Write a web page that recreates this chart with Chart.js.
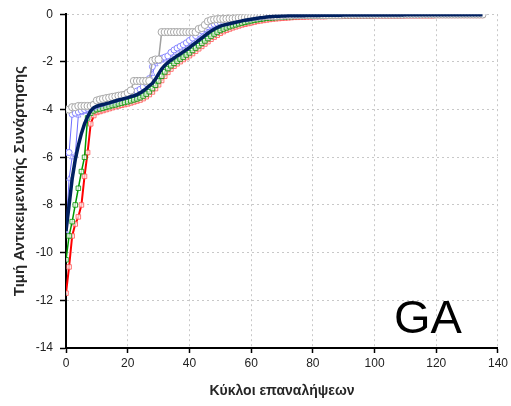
<!DOCTYPE html>
<html>
<head>
<meta charset="utf-8">
<script src="https://cdn.jsdelivr.net/npm/chart.js@4.4.1/dist/chart.umd.min.js"></script>
<style>
html, body { margin: 0; padding: 0; background: #fff; }
</style>
</head>
<body>
<canvas id="chart" width="511" height="406"></canvas>
<script>
// x = κύκλος επανάληψης (0..135), μία τιμή ανά κύκλο
var xTicks = [0, 20, 40, 60, 80, 100, 120, 140];
var yTicks = [-14, -12, -10, -8, -6, -4, -2, 0];

// μέσος όρος (σκούρα μπλε γραμμή)
var meanRun = [
  -9.1,-8.0,-6.9,-6.1,-5.5,-5.0,-4.6,-4.3,-4.05,-3.92,
  -3.86,-3.82,-3.79,-3.75,-3.72,-3.68,-3.64,-3.6,-3.57,-3.53,
  -3.5,-3.46,-3.42,-3.37,-3.3,-3.22,-3.12,-3.0,-2.9,-2.72,
  -2.5,-2.3,-2.15,-2.03,-1.93,-1.84,-1.75,-1.67,-1.58,-1.49,
  -1.4,-1.3,-1.2,-1.1,-1.0,-0.9,-0.8,-0.71,-0.63,-0.56,
  -0.5,-0.46,-0.43,-0.4,-0.37,-0.34,-0.31,-0.28,-0.25,-0.23,
  -0.21,-0.19,-0.17,-0.15,-0.14,-0.12,-0.11,-0.1,-0.09,-0.09,
  -0.08,-0.08,-0.07,-0.07,-0.07,-0.06,-0.06,-0.06,-0.05,-0.05,
  -0.05,-0.05,-0.05,-0.04,-0.04,-0.04,-0.04,-0.04,-0.04,-0.04,
  -0.03,-0.03,-0.03,-0.03,-0.03,-0.03,-0.03,-0.03,-0.03,-0.03,
  -0.03,-0.03,-0.03,-0.03,-0.03,-0.03,-0.03,-0.03,-0.03,-0.03,
  -0.02,-0.02,-0.02,-0.02,-0.02,-0.02,-0.02,-0.02,-0.02,-0.02,
  -0.02,-0.02,-0.02,-0.02,-0.02,-0.02,-0.02,-0.02,-0.02,-0.02,
  -0.02,-0.02,-0.02,-0.02,-0.02,-0.02
];

// γκρι κύκλοι
var grayRun = [
  -4.0,-4.0,-3.9,-3.9,-3.85,-3.85,-3.85,-3.85,-3.85,-3.8,
  -3.62,-3.58,-3.55,-3.52,-3.5,-3.47,-3.45,-3.42,-3.4,-3.38,
  -3.3,-3.2,-2.8,-2.8,-2.8,-2.8,-2.8,-2.8,-1.95,-1.9,
  -1.9,-0.75,-0.75,-0.75,-0.75,-0.75,-0.75,-0.75,-0.75,-0.75,
  -0.75,-0.75,-0.75,-0.62,-0.58,-0.45,-0.3,-0.25,-0.22,-0.21,
  -0.2,-0.2,-0.19,-0.18,-0.18,-0.17,-0.15,-0.14,-0.13,-0.12,
  -0.11,-0.1,-0.1,-0.09,-0.09,-0.08,-0.08,-0.07,-0.07,-0.06,
  -0.06,-0.05,-0.05,-0.05,-0.04,-0.04,-0.04,-0.04,-0.03,-0.03,
  -0.03,-0.03,-0.03,-0.03,-0.03,-0.03,-0.03,-0.03,-0.03,-0.03,
  -0.02,-0.02,-0.02,-0.02,-0.02,-0.02,-0.02,-0.02,-0.02,-0.02,
  -0.02,-0.02,-0.02,-0.02,-0.02,-0.02,-0.02,-0.02,-0.02,-0.02,
  -0.01,-0.01,-0.01,-0.01,-0.01,-0.01,-0.01,-0.01,-0.01,-0.01,
  -0.01,-0.01,-0.01,-0.01,-0.01,-0.01,-0.01,-0.01,-0.01,-0.01,
  -0.01,-0.01,-0.01,-0.01,-0.01,-0.01
];

// μπλε κύκλοι
var blueRunA = [
  -5.8,-5.8,-4.2,-4.15,-4.1,-4.05,-4.0,-3.95,-3.9,-3.85,
  -3.8,-3.75,-3.72,-3.68,-3.64,-3.6,-3.56,-3.52,-3.48,-3.44,
  -3.4,-3.35,-3.3,-3.22,-3.15,-3.05,-2.9,-2.7,-2.2,-1.9,
  -1.88,-1.85,-1.8,-1.75,-1.6,-1.5,-1.42,-1.35,-1.28,-1.2,
  -1.1,-1.0,-0.9,-0.8,-0.7,-0.6,-0.52,-0.46,-0.42,-0.38,
  -0.35,-0.32,-0.3,-0.28,-0.26,-0.24,-0.22,-0.2,-0.18,-0.17,
  -0.16,-0.14,-0.13,-0.12,-0.11,-0.1,-0.09,-0.08,-0.08,-0.07,
  -0.07,-0.06,-0.06,-0.05,-0.05,-0.05,-0.04,-0.04,-0.04,-0.04,
  -0.03,-0.03,-0.03,-0.03,-0.03,-0.03,-0.03,-0.03,-0.03,-0.03,
  -0.03,-0.03,-0.03,-0.03,-0.03,-0.03,-0.03,-0.03,-0.03,-0.03,
  -0.02,-0.02,-0.02,-0.02,-0.02,-0.02,-0.02,-0.02,-0.02,-0.02,
  -0.02,-0.02,-0.02,-0.02,-0.02,-0.02,-0.02,-0.02,-0.02,-0.02,
  -0.01,-0.01,-0.01,-0.01,-0.01,-0.01,-0.01,-0.01,-0.01,-0.01,
  -0.01,-0.01,-0.01,-0.01,-0.01,-0.01
];

// μπλε τρίγωνα
var blueRunB = [
  -9.1,-6.9,-6.0,-5.9,-4.25,-4.15,-4.1,-4.05,-4.0,-3.95,
  -3.88,-3.82,-3.78,-3.74,-3.7,-3.66,-3.62,-3.58,-3.54,-3.5,
  -3.46,-3.42,-3.38,-3.32,-3.25,-3.15,-3.0,-2.8,-2.5,-2.1,
  -2.0,-1.95,-1.9,-1.82,-1.72,-1.62,-1.52,-1.44,-1.36,-1.28,
  -1.2,-1.1,-1.0,-0.9,-0.8,-0.7,-0.6,-0.53,-0.47,-0.43,
  -0.4,-0.37,-0.34,-0.31,-0.29,-0.27,-0.25,-0.23,-0.21,-0.19,
  -0.17,-0.16,-0.14,-0.13,-0.12,-0.11,-0.1,-0.09,-0.09,-0.08,
  -0.08,-0.07,-0.07,-0.06,-0.06,-0.05,-0.05,-0.05,-0.04,-0.04,
  -0.04,-0.04,-0.03,-0.03,-0.03,-0.03,-0.03,-0.03,-0.03,-0.03,
  -0.03,-0.03,-0.03,-0.03,-0.03,-0.03,-0.03,-0.03,-0.03,-0.03,
  -0.03,-0.03,-0.03,-0.03,-0.03,-0.03,-0.03,-0.03,-0.03,-0.03,
  -0.02,-0.02,-0.02,-0.02,-0.02,-0.02,-0.02,-0.02,-0.02,-0.02,
  -0.02,-0.02,-0.02,-0.02,-0.02,-0.02,-0.02,-0.02,-0.02,-0.02,
  -0.02,-0.02,-0.02,-0.02,-0.02,-0.02
];

// πράσινα τετράγωνα
var greenRun = [
  -10.3,-9.3,-8.7,-8.0,-7.3,-6.6,-6.0,-4.35,-4.15,-4.05,
  -4.0,-3.97,-3.94,-3.9,-3.87,-3.83,-3.8,-3.76,-3.73,-3.7,
  -3.67,-3.63,-3.59,-3.55,-3.5,-3.43,-3.35,-3.25,-3.12,-2.98,
  -2.8,-2.6,-2.42,-2.28,-2.16,-2.06,-1.97,-1.88,-1.8,-1.71,
  -1.62,-1.52,-1.42,-1.32,-1.22,-1.12,-1.02,-0.92,-0.83,-0.75,
  -0.68,-0.62,-0.57,-0.52,-0.48,-0.44,-0.4,-0.37,-0.34,-0.31,
  -0.28,-0.25,-0.23,-0.21,-0.19,-0.17,-0.16,-0.15,-0.14,-0.13,
  -0.12,-0.11,-0.1,-0.1,-0.09,-0.09,-0.08,-0.08,-0.08,-0.07,
  -0.07,-0.07,-0.07,-0.06,-0.06,-0.06,-0.06,-0.06,-0.05,-0.05,
  -0.05,-0.05,-0.05,-0.05,-0.05,-0.05,-0.05,-0.05,-0.05,-0.05,
  -0.04,-0.04,-0.04,-0.04,-0.04,-0.04,-0.04,-0.04,-0.04,-0.04,
  -0.04,-0.04,-0.04,-0.04,-0.04,-0.04,-0.04,-0.04,-0.04,-0.04,
  -0.03,-0.03,-0.03,-0.03,-0.03,-0.03,-0.03,-0.03,-0.03,-0.03,
  -0.03,-0.03,-0.03,-0.03,-0.03,-0.03
];

// κόκκινα τετράγωνα
var redRun = [
  -11.7,-10.6,-9.3,-8.8,-8.5,-8.0,-6.8,-5.8,-4.6,-4.25,
  -4.12,-4.08,-4.04,-4.0,-3.96,-3.92,-3.88,-3.85,-3.82,-3.79,
  -3.76,-3.72,-3.68,-3.64,-3.6,-3.54,-3.46,-3.37,-3.26,-3.12,
  -2.96,-2.78,-2.6,-2.44,-2.3,-2.18,-2.08,-1.99,-1.9,-1.82,
  -1.74,-1.65,-1.55,-1.45,-1.35,-1.25,-1.15,-1.05,-0.96,-0.88,
  -0.8,-0.73,-0.67,-0.62,-0.57,-0.53,-0.49,-0.45,-0.42,-0.39,
  -0.36,-0.33,-0.3,-0.28,-0.26,-0.24,-0.22,-0.2,-0.19,-0.18,
  -0.17,-0.16,-0.15,-0.14,-0.13,-0.13,-0.12,-0.12,-0.11,-0.11,
  -0.1,-0.1,-0.1,-0.1,-0.1,-0.09,-0.09,-0.09,-0.09,-0.09,
  -0.08,-0.08,-0.08,-0.08,-0.08,-0.08,-0.08,-0.08,-0.08,-0.08,
  -0.07,-0.07,-0.07,-0.07,-0.07,-0.07,-0.07,-0.07,-0.07,-0.07,
  -0.06,-0.06,-0.06,-0.06,-0.06,-0.06,-0.06,-0.06,-0.06,-0.06,
  -0.05,-0.05,-0.05,-0.05,-0.05,-0.05,-0.05,-0.05,-0.05,-0.05,
  -0.05,-0.05,-0.05,-0.05,-0.05,-0.05
];

function toPoints(values) {
    return values.map(function(v, i) { return { x: i, y: v }; });
}

// μεγάλη ετικέτα "GA" κάτω δεξιά
var gaLabel = {
    id: 'gaLabel',
    afterDraw: function(chart) {
        var ctx = chart.ctx;
        var area = chart.chartArea;
        ctx.save();
        ctx.font = '47px "Liberation Sans", Arial, sans-serif';
        ctx.fillStyle = '#000';
        ctx.textBaseline = 'alphabetic';
        ctx.fillText('GA', area.right - 104, area.bottom - 15);
        ctx.restore();
    }
};

var ctx = document.getElementById('chart').getContext('2d');
var tickFont = { family: '"Liberation Sans", Arial, sans-serif', size: 12 };

var chart = new Chart(ctx, {
    type: 'line',
    data: {
        datasets: [{
            data: toPoints(meanRun),
            borderColor: '#002060',
            borderWidth: 3.5,
            pointRadius: 0
        }, {
            data: toPoints(grayRun),
            borderColor: '#a0a0a0',
            borderWidth: 1.5,
            pointStyle: 'circle',
            pointRadius: 3.6,
            pointBorderWidth: 1,
            pointBorderColor: '#a8a8a8',
            pointBackgroundColor: '#fff'
        }, {
            data: toPoints(blueRunA),
            borderColor: 'rgba(60,60,255,0.75)',
            borderWidth: 1,
            pointStyle: 'circle',
            pointRadius: 3,
            pointBorderWidth: 1,
            pointBorderColor: 'rgba(110,110,255,0.8)',
            pointBackgroundColor: '#fff'
        }, {
            data: toPoints(blueRunB),
            borderColor: 'rgba(60,60,255,0.75)',
            borderWidth: 1,
            pointStyle: 'triangle',
            pointRadius: 3,
            pointBorderWidth: 1,
            pointBorderColor: 'rgba(120,120,255,0.7)',
            pointBackgroundColor: 'rgba(255,255,255,0.6)'
        }, {
            data: toPoints(greenRun),
            borderColor: '#009a00',
            borderWidth: 1.5,
            pointStyle: 'rect',
            pointRadius: 3.2,
            pointBorderWidth: 1,
            pointBorderColor: 'rgba(0,150,0,0.8)',
            pointBackgroundColor: 'rgba(255,255,255,0.7)'
        }, {
            data: toPoints(redRun),
            borderColor: '#ff0000',
            borderWidth: 2,
            pointStyle: 'rect',
            pointRadius: 3.2,
            pointBorderWidth: 1,
            pointBorderColor: 'rgba(255,80,80,0.8)',
            pointBackgroundColor: 'rgba(255,255,255,0.7)'
        }]
    },
    options: {
        responsive: false,
        animation: false,
        layout: { padding: { left: 0, right: 12, top: 13, bottom: 0 } },
        plugins: {
            legend: { display: false },
            tooltip: { enabled: false }
        },
        elements: { line: { tension: 0 } },
        scales: {
            x: {
                type: 'linear',
                min: 0,
                max: 140,
                afterFit: function(scale) { scale.height = 58; },
                afterBuildTicks: function(scale) {
                    scale.ticks = xTicks.map(function(v) { return { value: v }; });
                },
                ticks: { color: '#222', font: tickFont, padding: 3, maxRotation: 0 },
                grid: {
                    color: '#c8c8c8',
                    lineWidth: 1,
                    tickLength: 5,
                    tickColor: '#000',
                    tickWidth: 1.5,
                    tickBorderDash: []
                },
                border: { display: true, color: '#000', width: 2, dash: [2, 3] },
                title: {
                    display: true,
                    text: 'Κύκλοι επαναλήψεων',
                    color: '#262626',
                    font: { family: '"Liberation Sans", Arial, sans-serif', size: 14, weight: 'bold' },
                    padding: { top: 0, bottom: 6 }
                }
            },
            y: {
                min: -14,
                max: 0,
                afterFit: function(scale) { scale.width = 66; },
                afterBuildTicks: function(scale) {
                    scale.ticks = yTicks.map(function(v) { return { value: v }; });
                },
                ticks: { color: '#222', font: tickFont, padding: 7 },
                grid: {
                    color: '#c8c8c8',
                    lineWidth: 1,
                    tickLength: 6,
                    tickColor: '#000',
                    tickWidth: 1.5,
                    tickBorderDash: []
                },
                border: { display: true, color: '#000', width: 2, dash: [2, 3] },
                title: {
                    display: true,
                    text: 'Τιμή Αντικειμενικής Συνάρτησης',
                    color: '#262626',
                    font: { family: '"Liberation Sans", Arial, sans-serif', size: 15, weight: 'bold' },
                    padding: { top: 11, bottom: 0 }
                }
            }
        }
    },
    plugins: [gaLabel]
});
</script>
</body>
</html>
